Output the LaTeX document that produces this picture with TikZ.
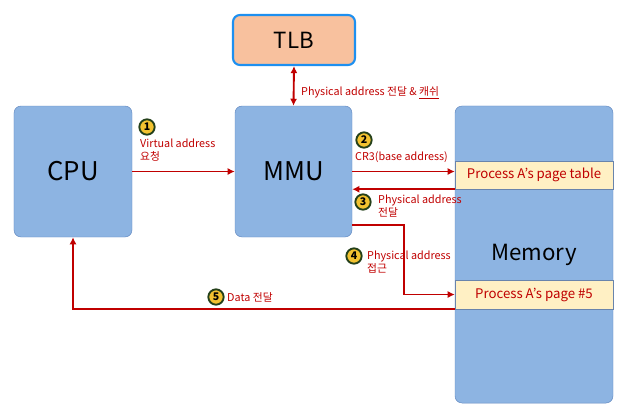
\documentclass[tikz,border=0pt]{standalone}
\usepackage{fontspec}
\setmainfont{Noto Sans CJK KR}
\usetikzlibrary{positioning,arrows.meta}

\begin{document}
\begin{tikzpicture}[x=0.03cm, y=-0.03cm, font=\fontsize{9.2}{11}\selectfont]
			% Define colors
			\definecolor{boxblue}{HTML}{8DB4E2}   % unit boxes
			\definecolor{boxline}{HTML}{5F86BF}   % unit border
			\definecolor{tlbpeach}{HTML}{F8C19E}  % TLB fill
			\definecolor{tlbline}{HTML}{1E90F0}   % TLB border
			\definecolor{bandyellow}{HTML}{FFF0C4} % memory entries
			\definecolor{flowred}{HTML}{C00000}   % arrows and labels
			\definecolor{badgegold}{HTML}{F2C230}
			\definecolor{badgegreen}{HTML}{24401A}
			
			\tikzset{
				unit/.style={draw=boxline, fill=boxblue, rounded corners=6pt, font=\fontsize{22}{26}\selectfont},
				band/.style={draw=boxline!70!gray, fill=bandyellow, minimum width=4.74cm, text=flowred, font=\fontsize{11.3}{13}\selectfont},
				flow/.style={draw=flowred, line width=1.6pt, -{Latex[length=6pt,width=6pt]}},
				badge/.style={circle, draw=badgegreen, fill=badgegold, line width=1.6pt, inner sep=0pt, minimum size=0.46cm, font=\fontsize{9}{9}\selectfont\bfseries},
				lbl/.style={text=flowred, align=left, inner sep=0pt}
			}
			
			\useasboundingbox (0,0) rectangle (624,411);
			
			% Units
			\node[unit, minimum width=3.54cm, minimum height=3.93cm] (cpu) at (73,171.5) {CPU};
			\node[unit, minimum width=3.51cm, minimum height=3.93cm] (mmu) at (293.5,171.5) {MMU};
			\node[unit, draw=tlbline, fill=tlbpeach, line width=1.8pt, minimum width=3.66cm, minimum height=1.5cm, font=\fontsize{19}{22}\selectfont] (tlb) at (294,40) {TLB};
			\node[unit, minimum width=4.74cm, minimum height=8.91cm] (mem) at (534,254.5) {};
			\node[font=\fontsize{19}{22}\selectfont] (memtext) at (534,255) {Memory};
			
			% Memory entries
			\node[band, minimum height=0.84cm] (pt) at (534,175) {Process A's page table};
			\node[band, minimum height=0.87cm] (p5) at (534,294.5) {Process A's page \#5};
			
			% TLB <-> MMU
			\draw[flow, {Latex[length=6pt,width=6pt]}-{Latex[length=6pt,width=6pt]}] (tlb.south) -- (mmu.north);
			\node[lbl, anchor=west] (tlbnote) at (301,93) {Physical address 전달 \& \underline{캐쉬}};
			
			% Step 1
			\draw[flow] (cpu) -- (mmu);
			\node[badge] (b1) at (147,127) {1};
			\node[lbl, anchor=north west] (n1) at (140,139) {Virtual address\\요청};
			
			% Step 2
			\draw[flow] (mmu.east) -- (mmu.east -| pt.west);
			\node[badge] (b2) at (364,140) {2};
			\node[lbl, anchor=west] (n2) at (355,157) {CR3(base address)};
			
			% Step 3
			\draw[flow] (pt.south west) -- (pt.south west -| mmu.east);
			\node[badge] (b3) at (363,202) {3};
			\node[lbl, anchor=north west] (n3) at (378,195) {Physical address\\전달};
			
			% Step 4
			\draw[flow] ([yshift=0.36cm]mmu.south east) -- ++(52,0) |- (p5.west);
			\node[badge] (b4) at (354,256) {4};
			\node[lbl, anchor=north west] (n4) at (367,251) {Physical address\\접근};
			
			% Step 5
			\draw[flow] (p5.south west) -| (cpu.south);
			\node[badge] (b5) at (216,297) {5};
			\node[lbl, anchor=west] (n5) at (227,297) {Data 전달};
		\end{tikzpicture}
\end{document}
